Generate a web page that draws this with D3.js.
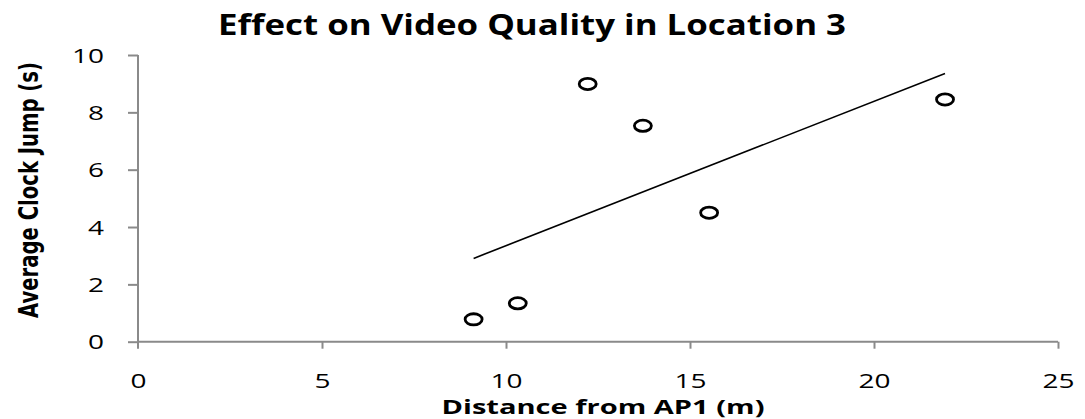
<!DOCTYPE html>
<html>
<head>
<meta charset="utf-8">
<script src="https://cdn.jsdelivr.net/npm/d3@7"></script>
<style>
  html, body { margin: 0; padding: 0; background: #fff; }
  svg { display: block; }
</style>
</head>
<body>
<svg id="chart" width="1085" height="419"></svg>
<script>
// Measured distances from AP1 (m) and the average clock jump (s) at each spot
const distance = [9.12, 10.32, 12.22, 13.72, 15.52, 21.93];
const clockJump = [0.78, 1.34, 8.99, 7.53, 4.5, 8.45];
const xTicks = [0, 5, 10, 15, 20, 25];
const yTicks = [0, 2, 4, 6, 8, 10];

const titleText = "Effect on Video Quality in Location 3";
const xLabel = "Distance from AP1 (m)";
const yLabel = "Average Clock Jump (s)";

const svg = d3.select("#chart");
const plotLeft = 138, plotRight = 1058, plotTop = 55, plotBottom = 341.7;
const axisColor = "#8a8a8a";
const font = "'Open Sans', 'DejaVu Sans', sans-serif";

const x = d3.scaleLinear().domain([0, 25]).range([plotLeft, plotRight]);
const y = d3.scaleLinear().domain([0, 10]).range([plotBottom, plotTop]);

// Axes
const xAxis = svg.append("g").attr("transform", `translate(0,${plotBottom})`)
  .call(d3.axisBottom(x).tickValues(xTicks).tickSize(7).tickPadding(25));
const yAxis = svg.append("g").attr("transform", `translate(${plotLeft},0)`)
  .call(d3.axisLeft(y).tickValues(yTicks).tickSize(10).tickPadding(24));

[xAxis, yAxis].forEach(g => {
  g.select(".domain").attr("stroke", axisColor).attr("stroke-width", 2);
  g.selectAll(".tick line").attr("stroke", axisColor).attr("stroke-width", 2);
  g.selectAll(".tick text")
    .attr("fill", "#000")
    .style("font-family", font)
    .style("font-size", "20px")
    .attr("textLength", d => String(d).length * 16)
    .attr("lengthAdjust", "spacingAndGlyphs");
});
yAxis.selectAll(".tick text").attr("dy", "0.36em");
// axis lines without outer tick stubs beyond the range
xAxis.select(".domain").attr("d", `M${plotLeft},0H${plotRight}`);
yAxis.select(".domain").attr("d", `M0,${plotBottom}V${plotTop}`);
xAxis.selectAll(".tick line").filter(d => d === 0).remove();
svg.append("line")
  .attr("x1", plotLeft).attr("x2", plotLeft)
  .attr("y1", plotBottom).attr("y2", plotBottom + 7)
  .attr("stroke", axisColor).attr("stroke-width", 2);

// Least-squares linear trend through the measurements
const mx = d3.mean(distance), my = d3.mean(clockJump);
const sxy = d3.sum(distance, (d, i) => (d - mx) * (clockJump[i] - my));
const sxx = d3.sum(distance, d => (d - mx) ** 2);
const slope = sxy / sxx, intercept = my - slope * mx;
const [x0, x1] = d3.extent(distance);
svg.append("line")
  .attr("x1", x(x0)).attr("y1", y(intercept + slope * x0))
  .attr("x2", x(x1)).attr("y2", y(intercept + slope * x1))
  .attr("stroke", "#000").attr("stroke-width", 1.6);

// Markers
svg.append("g").selectAll("ellipse")
  .data(distance.map((d, i) => [d, clockJump[i]]))
  .join("ellipse")
  .attr("cx", d => x(d[0]))
  .attr("cy", d => y(d[1]))
  .attr("rx", 8.5).attr("ry", 5.6)
  .attr("fill", "none")
  .attr("stroke", "#000")
  .attr("stroke-width", 2.8);

// Title and axis titles
svg.append("text")
  .attr("x", 532).attr("y", 35)
  .attr("text-anchor", "middle")
  .attr("textLength", 628).attr("lengthAdjust", "spacingAndGlyphs")
  .style("font-family", font).style("font-weight", "bold").style("font-size", "28px")
  .text(titleText);

svg.append("text")
  .attr("x", 603).attr("y", 414)
  .attr("text-anchor", "middle")
  .attr("textLength", 323).attr("lengthAdjust", "spacingAndGlyphs")
  .style("font-family", font).style("font-weight", "bold").style("font-size", "19px")
  .text(xLabel);

svg.append("text")
  .attr("transform", "translate(38,190) rotate(-90)")
  .attr("text-anchor", "middle")
  .attr("textLength", 256).attr("lengthAdjust", "spacingAndGlyphs")
  .style("font-family", "'DejaVu Sans Condensed', 'DejaVu Sans', sans-serif")
  .style("font-weight", "bold").style("font-size", "27px")
  .text(yLabel);
</script>
</body>
</html>
